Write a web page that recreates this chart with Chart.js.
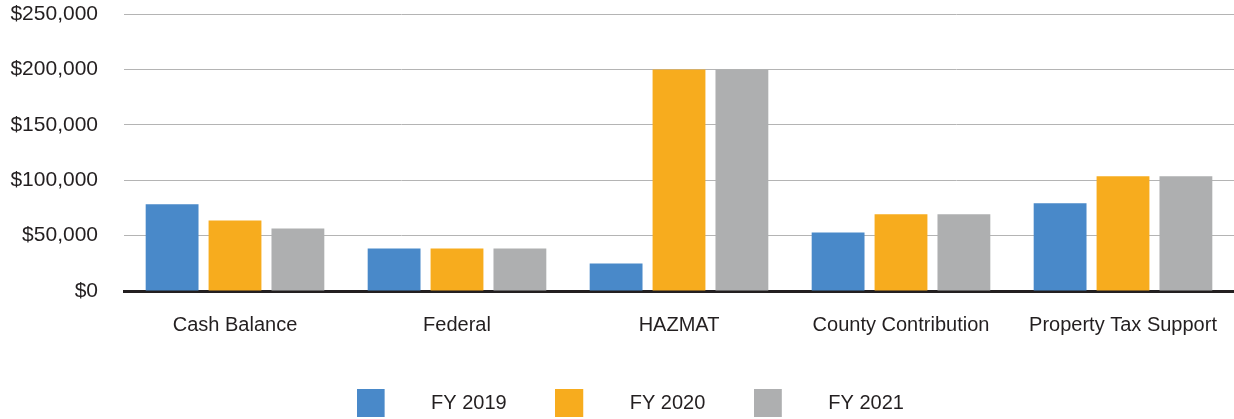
<!DOCTYPE html>
<html>
<head>
<meta charset="utf-8">
<script src="https://cdn.jsdelivr.net/npm/chart.js@4.4.1/dist/chart.umd.min.js"></script>
<style>
  body { margin: 0; background: #fff; }
  #wrap { width: 1234px; height: 419px; }
</style>
</head>
<body>
<div id="wrap"><canvas id="fundChart"></canvas></div>
<script>
const categories = ['Cash Balance', 'Federal', 'HAZMAT', 'County Contribution', 'Property Tax Support'];
const seriesNames = ['FY 2019', 'FY 2020', 'FY 2021'];
const fy2019 = [78200, 38400, 24900, 52900, 79100];
const fy2020 = [63700, 38400, 200000, 69200, 103500];
const fy2021 = [56500, 38400, 200000, 69200, 103500];
const yTicks = [0, 50000, 100000, 150000, 200000, 250000];

const colors = ['#4989c9', '#f7ac1e', '#aeafb0'];
const textColor = '#231f20';
const font = 'Arial, "Liberation Sans", sans-serif';

// square legend swatch, shifted left inside a wider transparent canvas
function swatch(color) {
  const c = document.createElement('canvas');
  c.width = 38; c.height = 28;
  const g = c.getContext('2d');
  g.fillStyle = color;
  g.fillRect(0, 0, 28, 28);
  return c;
}

const values = [fy2019, fy2020, fy2021];

new Chart(document.getElementById('fundChart'), {
  type: 'bar',
  data: {
    labels: categories,
    datasets: seriesNames.map((name, i) => ({
      label: name,
      data: values[i],
      backgroundColor: colors[i],
      borderWidth: 0,
      categoryPercentage: 0.85,
      barPercentage: 0.84
    }))
  },
  options: {
    responsive: true,
    maintainAspectRatio: false,
    animation: false,
    layout: { padding: { top: 14, right: 0, bottom: -4, left: 0 } },
    plugins: {
      tooltip: { enabled: false },
      legend: {
        position: 'bottom',
        labels: {
          usePointStyle: true,
          pointStyleWidth: 91,
          padding: 22,
          color: textColor,
          font: { family: font, size: 20 },
          generateLabels(chart) {
            const items = Chart.defaults.plugins.legend.labels.generateLabels(chart);
            items.forEach((it, i) => { it.pointStyle = swatch(colors[i]); });
            return items;
          }
        }
      }
    },
    scales: {
      x: {
        // invisible tick marks keep the labels clear of the axis line
        grid: { color: 'transparent', drawOnChartArea: false, drawTicks: true, tickLength: 22, tickColor: 'transparent' },
        border: { color: '#231f20', width: 3 },
        ticks: { color: textColor, font: { family: font, size: 20 }, padding: 0, maxRotation: 0 },
        afterFit(scale) { scale.height = 80; }
      },
      y: {
        min: 0,
        max: 250000,
        afterBuildTicks(scale) { scale.ticks = yTicks.map(v => ({ value: v })); },
        grid: { color: '#b4b4b4', lineWidth: 1, drawTicks: true, tickLength: 26, tickColor: 'transparent' },
        border: { display: false },
        ticks: {
          color: textColor,
          font: { family: font, size: 21 },
          padding: 0,
          callback: v => '$' + v.toLocaleString('en-US')
        },
        afterFit(scale) { scale.width = 124; }
      }
    }
  }
});
</script>
</body>
</html>
